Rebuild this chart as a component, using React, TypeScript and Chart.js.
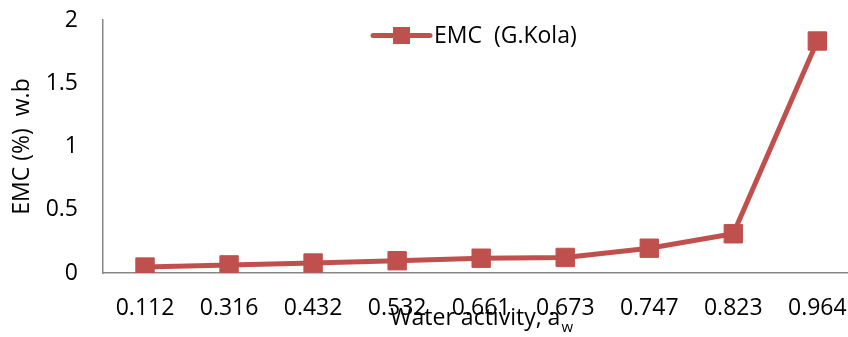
import React, { useEffect, useRef } from "react";
import { Chart, registerables } from "chart.js";

Chart.register(...registerables);

const categories = ["0.112", "0.316", "0.432", "0.532", "0.661", "0.673", "0.747", "0.823", "0.964"];
const emcValues = [0.047, 0.064, 0.079, 0.097, 0.117, 0.123, 0.196, 0.31, 1.834];
const yTicks = [0, 0.5, 1, 1.5, 2];
const seriesLabel = "EMC  (G.Kola)";
const yTitle = "EMC (%)  w.b";
const xTitleMain = "Water activity, a";
const xTitleSub = "w";

const RED = "#C0504D";
const FONT = '"Open Sans", "Liberation Sans", sans-serif';

export default function App() {
  const ref = useRef<HTMLCanvasElement | null>(null);

  useEffect(() => {
    document.body.style.margin = "0";
    const canvas = ref.current;
    if (!canvas) return;

    const overlay = {
      id: "overlay",
      afterDraw(chart: any) {
        const { ctx, chartArea } = chart;
        const xs = chart.scales.x;
        ctx.save();
        // Legend
        const lx = chartArea.left + 270;
        const ly = 35.5;
        ctx.strokeStyle = RED;
        ctx.lineWidth = 5;
        ctx.lineCap = "round";
        ctx.beginPath();
        ctx.moveTo(lx, ly);
        ctx.lineTo(lx + 57, ly);
        ctx.stroke();
        ctx.fillStyle = RED;
        ctx.fillRect(lx + 28.5 - 8.5, ly - 8.5, 17, 17);
        ctx.fillStyle = "#000";
        ctx.font = `23px ${FONT}`;
        ctx.textBaseline = "middle";
        ctx.textAlign = "left";
        ctx.fillText(chart.data.datasets[0].label, lx + 61, ly + 1);

        // X title with subscript
        const cx = (chartArea.left + xs.getPixelForValue(categories.length - 0.5)) / 2;
        ctx.font = `23px ${FONT}`;
        const w1 = ctx.measureText(xTitleMain).width;
        ctx.font = `15px ${FONT}`;
        const w2 = ctx.measureText(xTitleSub).width;
        const start = cx - (w1 + w2) / 2;
        ctx.textBaseline = "alphabetic";
        ctx.font = `23px ${FONT}`;
        ctx.fillText(xTitleMain, start, 325);
        ctx.font = `15px ${FONT}`;
        ctx.fillText(xTitleSub, start + w1 + 1, 332);
        ctx.restore();
      },
    };

    const chart = new Chart(canvas, {
      type: "line",
      data: {
        datasets: [
          {
            label: seriesLabel,
            data: emcValues.map((v, i) => ({ x: i, y: v })),
            borderColor: RED,
            backgroundColor: RED,
            borderWidth: 5,
            pointStyle: "rect",
            pointRadius: 13,
            pointBorderWidth: 1,
            pointBackgroundColor: RED,
            pointBorderColor: RED,
            tension: 0,
          },
        ],
      },
      options: {
        responsive: false,
        animation: false,
        devicePixelRatio: 1,
        layout: { autoPadding: false, padding: { top: 20, left: 0, right: 0, bottom: 0 } },
        plugins: {
          legend: { display: false },
          tooltip: { enabled: false },
        },
        scales: {
          x: {
            type: "linear",
            min: -0.5,
            max: categories.length - 0.635,
            grid: { display: false, drawTicks: false },
            border: { display: true, color: "#878787", width: 1.5 },
            ticks: {
              padding: 22,
              color: "#000",
              font: { family: FONT, size: 23 },
              maxRotation: 0,
              autoSkip: false,
              callback: (v: any) => categories[Math.round(Number(v))] ?? "",
            },
            afterBuildTicks: (axis: any) => {
              axis.ticks = categories.map((_, i) => ({ value: i }));
            },
            afterFit: (scale: any) => {
              scale.height = 64;
              scale.paddingLeft = 0;
              scale.paddingRight = 0;
            },
          },
          y: {
            min: yTicks[0],
            max: yTicks[yTicks.length - 1],
            grid: { display: false, drawTicks: false },
            border: { display: true, color: "#878787", width: 1.5 },
            ticks: {
              padding: 25,
              color: "#000",
              font: { family: FONT, size: 23 },
              callback: (v: any) => String(Number(v)),
            },
            afterBuildTicks: (axis: any) => {
              axis.ticks = yTicks.map((v) => ({ value: v }));
            },
            title: {
              display: true,
              text: yTitle,
              color: "#000",
              font: { family: FONT, size: 23 },
              padding: { top: 9, bottom: 0 },
            },
            afterFit: (scale: any) => {
              scale.width = 103;
              scale.paddingTop = 0;
              scale.paddingBottom = 0;
            },
          },
        },
      },
      plugins: [overlay],
    });

    return () => chart.destroy();
  }, []);

  return (
    <div style={{ width: 848, height: 337, position: "relative", background: "#fff" }}>
      <canvas ref={ref} width={848} height={337} style={{ display: "block" }} />
    </div>
  );
}
